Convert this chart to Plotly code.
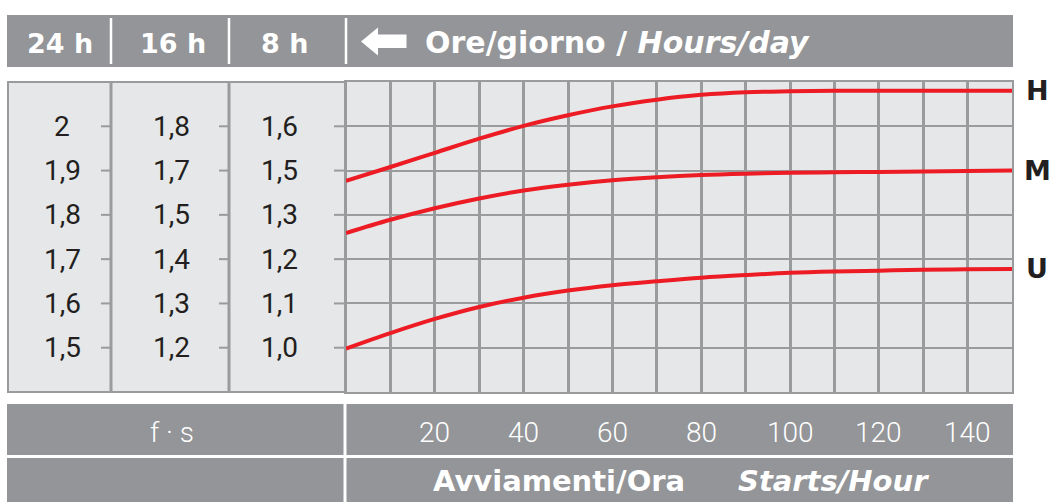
import plotly.graph_objects as go

# ---------------- data ----------------
starts = [0, 10, 20, 30, 40, 50, 60, 70, 80, 90, 100, 110, 120, 130, 140, 150]
curve_H = [1.877, 1.908, 1.940, 1.972, 2.001, 2.025, 2.045, 2.060, 2.071, 2.077,
           2.079, 2.080, 2.080, 2.080, 2.080, 2.080]
curve_M = [1.759, 1.789, 1.815, 1.837, 1.855, 1.868, 1.878, 1.885, 1.890, 1.893,
           1.895, 1.896, 1.897, 1.898, 1.899, 1.900]
curve_U = [1.498, 1.533, 1.565, 1.592, 1.613, 1.629, 1.641, 1.650, 1.658, 1.664,
           1.669, 1.672, 1.674, 1.676, 1.677, 1.678]
curve_names = ["H", "M", "U"]

x_tick_vals = [20, 40, 60, 80, 100, 120, 140]
label_levels = [2.0, 1.9, 1.8, 1.7, 1.6, 1.5]
labels_24h = ["2", "1,9", "1,8", "1,7", "1,6", "1,5"]
labels_16h = ["1,8", "1,7", "1,5", "1,4", "1,3", "1,2"]
labels_8h = ["1,6", "1,5", "1,3", "1,2", "1,1", "1,0"]
header_cols = ["24 h", "16 h", "8 h"]

# ---------------- helpers ----------------
W, H = 1050, 502
def px(x):
    return x / W
def py(y):
    return 1 - y / H

RED = "#ed1c24"
GRID = "#9a9b9d"
BAR = "#939598"
BG = "#e6e7e8"
DARK = "#231f20"
BOLD = "DejaVu Sans"
LIGHT = "Roboto"

fig = go.Figure()
for name, ys in zip(curve_names, [curve_H, curve_M, curve_U]):
    fig.add_trace(go.Scatter(x=starts, y=ys, mode="lines", name=name,
                             line=dict(color=RED, width=4, shape="spline"),
                             showlegend=False, hoverinfo="skip"))

shapes = []
ann = []
# header bar
shapes.append(dict(type="rect", xref="paper", yref="paper", x0=px(7), x1=px(1013),
                   y0=py(67), y1=py(15), fillcolor=BAR, line=dict(width=0), layer="below"))
for xs in [111, 229, 346]:
    shapes.append(dict(type="line", xref="paper", yref="paper", x0=px(xs), x1=px(xs),
                       y0=py(64), y1=py(18), line=dict(color="white", width=2.5)))
# arrow
arrow = "M {} {} L {} {} L {} {} L {} {} L {} {} L {} {} L {} {} Z".format(
    px(361), py(41.5), px(378), py(27.5), px(378), py(34.5), px(406.5), py(34.5),
    px(406.5), py(48), px(378), py(48), px(378), py(55.5))
shapes.append(dict(type="path", xref="paper", yref="paper", path=arrow,
                   fillcolor="white", line=dict(width=0)))
# left panel
shapes.append(dict(type="rect", xref="paper", yref="paper", x0=px(8), x1=px(346),
                   y0=py(392), y1=py(82), fillcolor=BG, line=dict(color=GRID, width=2),
                   layer="below"))
for xs in [111, 229]:
    shapes.append(dict(type="line", xref="paper", yref="paper", x0=px(xs), x1=px(xs),
                       y0=py(392), y1=py(82), line=dict(color=GRID, width=3)))
# bottom bars
shapes.append(dict(type="rect", xref="paper", yref="paper", x0=px(7), x1=px(1013),
                   y0=py(455), y1=py(404), fillcolor=BAR, line=dict(width=0), layer="below"))
shapes.append(dict(type="rect", xref="paper", yref="paper", x0=px(7), x1=px(1013),
                   y0=py(503), y1=py(458), fillcolor=BAR, line=dict(width=0), layer="below"))
shapes.append(dict(type="line", xref="paper", yref="paper", x0=px(345), x1=px(345),
                   y0=py(503), y1=py(404), line=dict(color="white", width=3)))

# left labels and ticks
col_centers = [62, 171, 279]
tick_spans = [(101, 110), (219, 228), (334, 346)]
for cx, (t0, t1), labs in zip(col_centers, tick_spans, [labels_24h, labels_16h, labels_8h]):
    for lv, lab in zip(label_levels, labs):
        ann.append(dict(xref="paper", yref="y", x=px(cx), y=lv, text=lab, showarrow=False,
                        xanchor="center", yanchor="middle",
                        font=dict(family=LIGHT, size=28, color=DARK, weight=400)))
        shapes.append(dict(type="line", xref="paper", yref="y", x0=px(t0), x1=px(t1),
                           y0=lv, y1=lv, line=dict(color=GRID, width=2)))

# header texts
for cx, t in zip([60, 173, 284], header_cols):
    ann.append(dict(xref="paper", yref="paper", x=px(cx), y=py(43), text="<b>%s</b>" % t,
                    showarrow=False, xanchor="center", yanchor="middle",
                    font=dict(family=BOLD, size=27, color="white")))
ann.append(dict(xref="paper", yref="paper", x=px(423), y=py(42),
                text="<b>Ore/giorno / <i>Hours/day</i></b>", showarrow=False,
                xanchor="left", yanchor="middle",
                font=dict(family=BOLD, size=30, color="white")))

# bottom texts
ann.append(dict(xref="paper", yref="paper", x=px(172), y=py(432), text="f · s",
                showarrow=False, xanchor="center", yanchor="middle",
                font=dict(family=LIGHT, size=28, color="white", weight=300)))
for v in x_tick_vals:
    ann.append(dict(xref="x", yref="paper", x=v, y=py(432), text=str(v),
                    showarrow=False, xanchor="center", yanchor="middle",
                    font=dict(family=LIGHT, size=28, color="white", weight=300)))
ann.append(dict(xref="paper", yref="paper", x=px(431), y=py(481),
                text="<b>Avviamenti/Ora</b>", showarrow=False, xanchor="left",
                yanchor="middle", font=dict(family=BOLD, size=29, color="white")))
ann.append(dict(xref="paper", yref="paper", x=px(736), y=py(481),
                text="<b><i>Starts/Hour</i></b>", showarrow=False, xanchor="left",
                yanchor="middle", font=dict(family=BOLD, size=29, color="white")))

# curve labels
for name, ys in zip(curve_names, [curve_H, curve_M, curve_U]):
    ann.append(dict(xref="paper", yref="y", x=px(1037), y=ys[-1], text="<b>%s</b>" % name,
                    showarrow=False, xanchor="center", yanchor="middle",
                    font=dict(family=BOLD, size=27, color=DARK)))

fig.update_layout(
    width=W, height=H, margin=dict(l=0, r=0, t=0, b=0),
    paper_bgcolor="white", plot_bgcolor=BG,
    xaxis=dict(domain=[px(346), px(1012)], range=[0, 150], dtick=10, tick0=0,
               showticklabels=False, ticks="", gridcolor=GRID, gridwidth=3,
               zeroline=False, showline=True, linecolor=GRID, linewidth=2, mirror=True,
               fixedrange=True),
    yaxis=dict(domain=[py(392), py(82)], range=[1.4, 2.1], dtick=0.1, tick0=1.4,
               showticklabels=False, ticks="", gridcolor=GRID, gridwidth=2,
               zeroline=False, showline=True, linecolor=GRID, linewidth=2, mirror=True,
               fixedrange=True),
    shapes=shapes, annotations=ann, showlegend=False,
)

fig.write_html("out.html", config={"displayModeBar": False},
               post_script="document.body.style.margin='0';document.body.style.overflow='hidden';")
